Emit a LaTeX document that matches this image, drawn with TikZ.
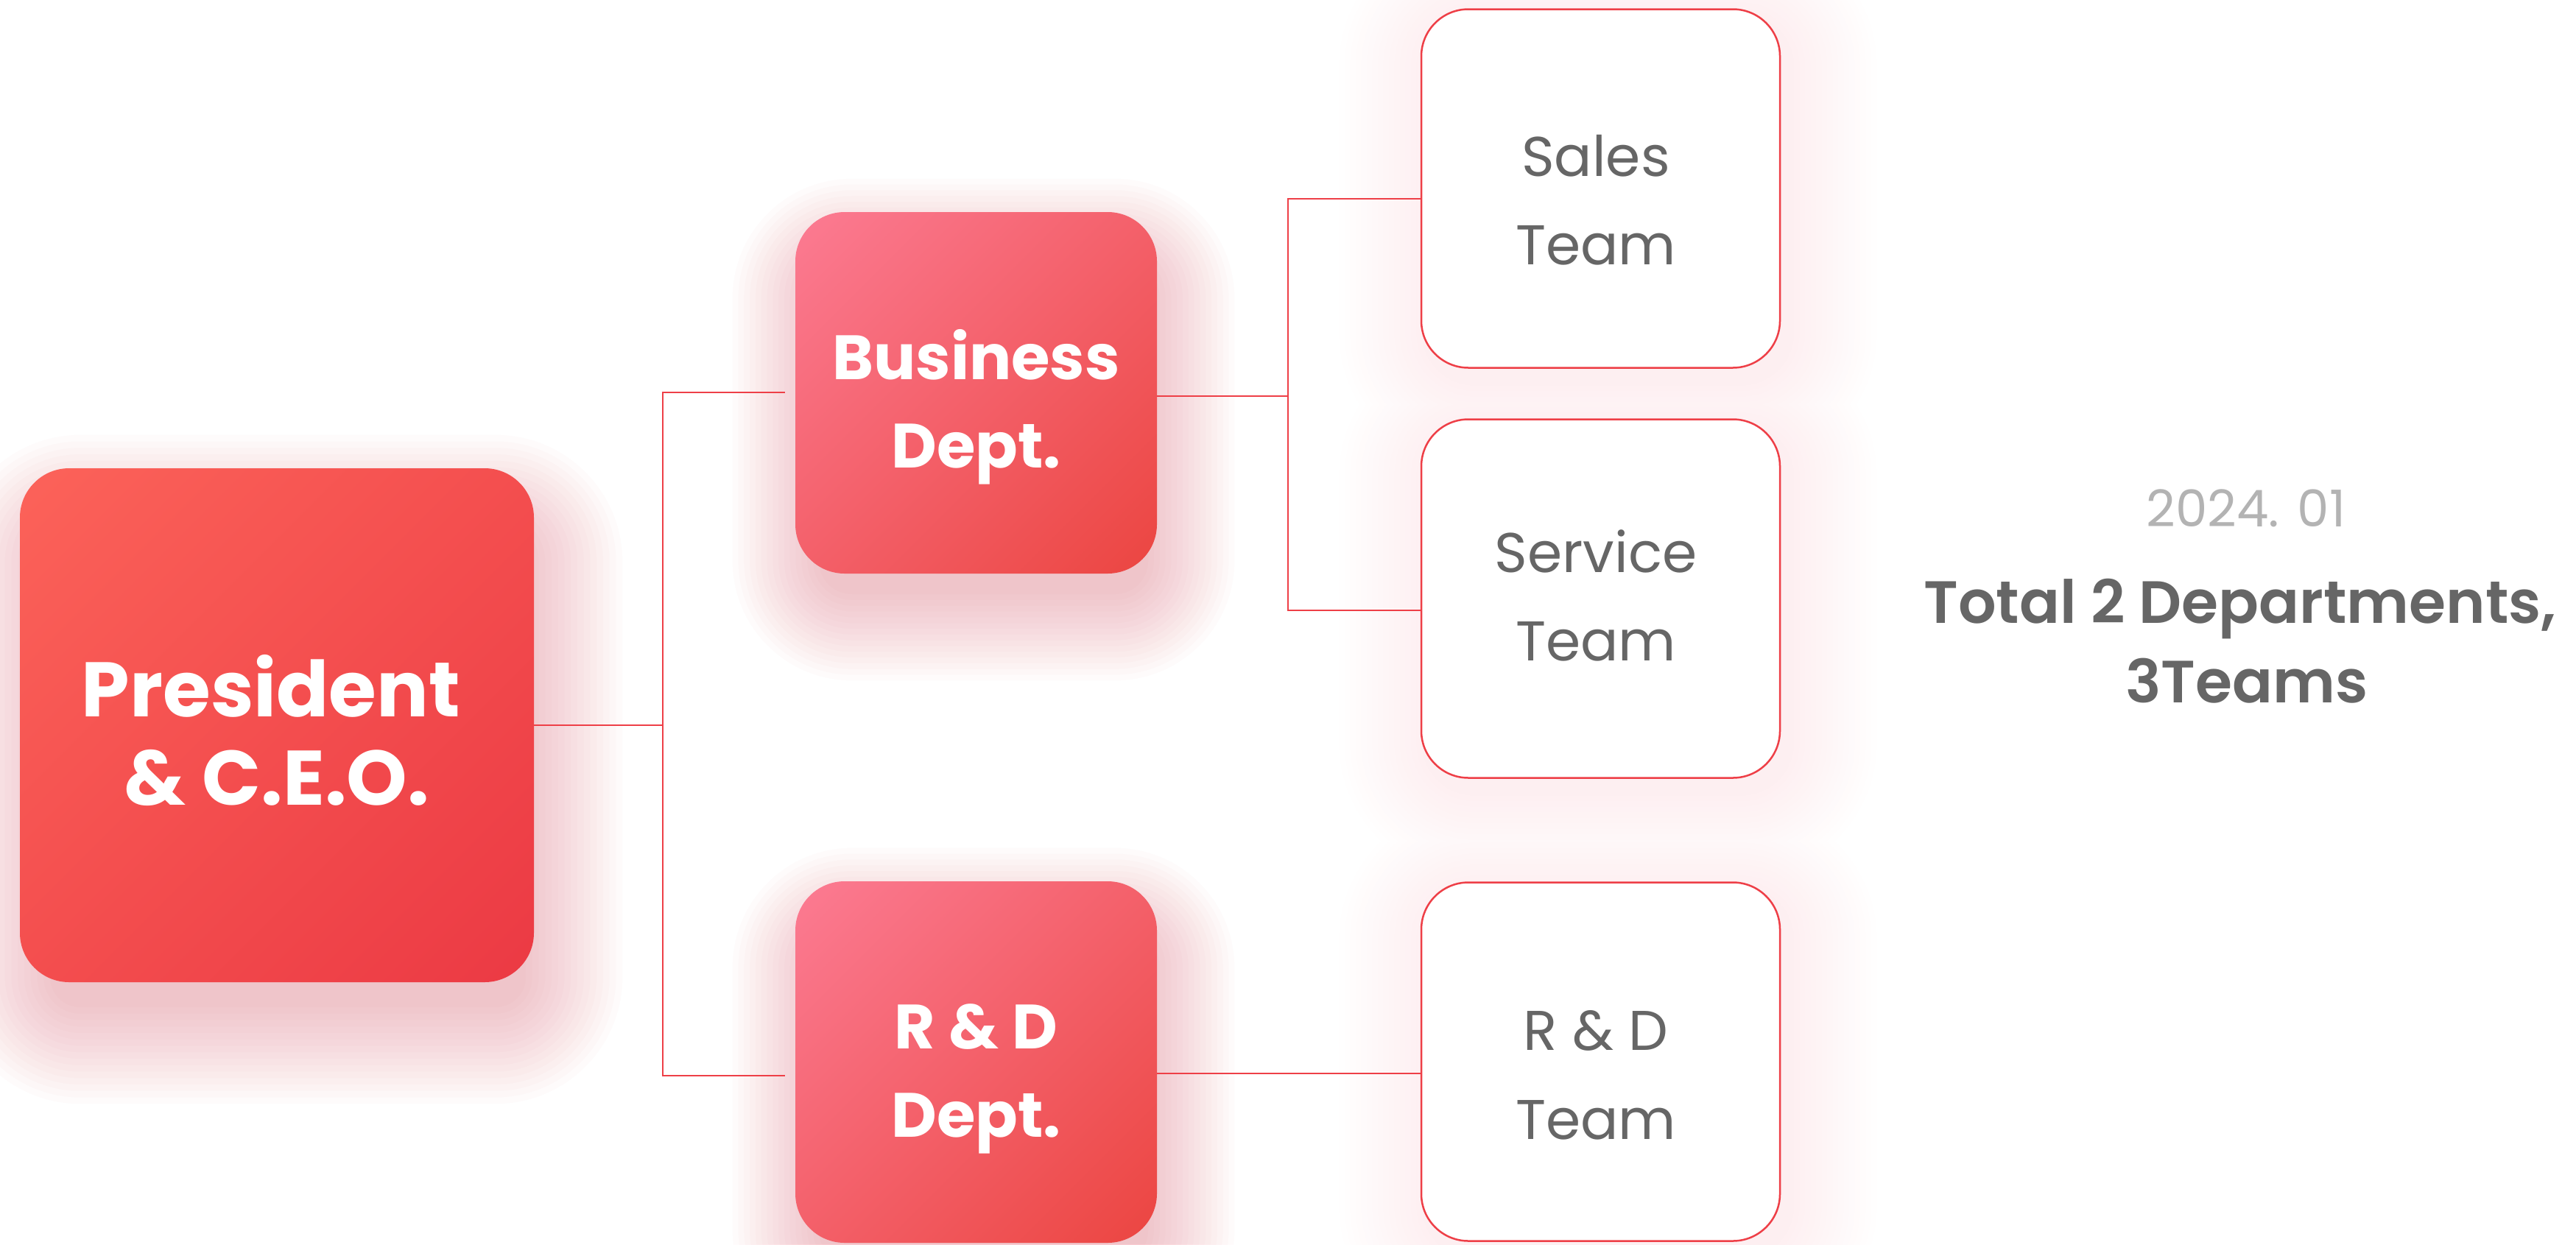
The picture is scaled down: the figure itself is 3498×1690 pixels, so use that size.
\documentclass[tikz,border=0pt]{standalone}
\usepackage{fontspec}
\setmainfont{Poppins}
\newfontfamily\popsemi{Poppins SemiBold}
\usetikzlibrary{calc,backgrounds}
\definecolor{presA}{HTML}{FF6B5E}
\definecolor{presB}{HTML}{E8313F}
\definecolor{deptA}{HTML}{FF86A3}
\definecolor{deptB}{HTML}{E83A30}
\definecolor{lineRed}{HTML}{EE3F47}
\definecolor{teamGray}{HTML}{666666}
\definecolor{dateGray}{HTML}{B3B3B3}
\definecolor{shadowPink}{HTML}{EE5A6C}
\definecolor{teamShadow}{HTML}{F2707E}
\pgfdeclareverticalshading{presshade}{100bp}{color(0bp)=(presB); color(100bp)=(presA)}
\pgfdeclareverticalshading{deptshade}{100bp}{color(0bp)=(deptB); color(100bp)=(deptA)}
% translucent layered glow: #1 node, #2 corner radius, #3 dx, #4 dy, #5 spread, #6 opacity per layer, #7 inset
\newcommand\softshadow[7]{%
  \foreach \i in {1,...,16}{%
    \pgfmathsetmacro\dd{#5*\i/16-#7}%
    \pgfmathsetmacro\rr{max(#2+\dd,4)}%
    \fill[shadowPink, opacity=#6, rounded corners=\rr pt]
      ($(#1.north west)+(#3-\dd,#4-\dd)$) rectangle ($(#1.south east)+(#3+\dd,#4+\dd)$);
  }}
% solid layered glow for a list of nodes, outer rings first:
% #1 node list, #2 corner radius, #3 dx, #4 dy, #5 spread, #6 max percent
\newcommand\solidshadows[6]{%
  \foreach \i in {16,...,1}{%
    \pgfmathsetmacro\dd{#5*\i/16}%
    \pgfmathsetmacro\rr{#2+\dd}%
    \pgfmathsetmacro\pp{#6*(17-\i)/16}%
    \foreach \n in {#1}{%
      \fill[teamShadow!\pp!white, rounded corners=\rr pt]
        ($(\n.north west)+(#3-\dd,#4-\dd)$) rectangle ($(\n.south east)+(#3+\dd,#4+\dd)$);
    }%
  }}
\tikzset{
  presbox/.style={shade, shading=presshade, shading angle=45, rounded corners=67pt,
    minimum width=698pt, minimum height=698pt, inner sep=0pt},
  deptbox/.style={shade, shading=deptshade, shading angle=45, rounded corners=67pt,
    minimum width=491pt, minimum height=491pt, inner sep=0pt},
  teambox/.style={fill=white, draw=lineRed, line width=2.5pt, rounded corners=64pt,
    minimum width=487pt, minimum height=487pt, inner sep=0pt},
  prestxt/.style={anchor=base, inner sep=0pt, text=white, font=\fontsize{105}{105}\selectfont\bfseries},
  depttxt/.style={anchor=base, inner sep=0pt, text=white, font=\fontsize{85}{85}\selectfont\bfseries},
  teamtxt/.style={anchor=base, inner sep=0pt, text=teamGray, font=\fontsize{76}{76}\selectfont},
  datetxt/.style={anchor=base, inner sep=0pt, text=dateGray, font=\fontsize{69}{69}\selectfont},
  sumtxt/.style={anchor=base, inner sep=0pt, text=teamGray, font=\fontsize{81}{81}\selectfont\popsemi},
  conn/.style={draw=lineRed, line width=2.2pt}
}
\begin{document}
\begin{tikzpicture}[x=1pt,y=-1pt]
\useasboundingbox (0,0) rectangle (3498,1690);
% boxes
\node[presbox] (pres) at (376,985) {};
\node[deptbox] (bus) at (1325.5,533.5) {};
\node[deptbox] (rnd) at (1325.5,1442.5) {};
\node[teambox] (sales) at (2173.5,256) {};
\node[teambox] (service) at (2173.5,813) {};
\node[teambox] (rndt) at (2173.5,1442) {};
% shadows
\begin{scope}[on background layer]
  \fill[white] (0,0) rectangle (3498,1690);
  \solidshadows{sales,service,rndt}{64}{10}{15}{120}{11}
  \softshadow{pres}{67}{15}{60}{140}{0.022}{35}
  \softshadow{bus}{67}{10}{50}{125}{0.022}{30}
  \softshadow{rnd}{67}{10}{50}{125}{0.022}{30}
\end{scope}
% texts
\node[prestxt] (presT1) at (368,973) {President};
\node[prestxt] (presT2) at (376,1093) {\& C.E.O.};
\node[depttxt] (busT1) at (1325.5,515) {Business};
\node[depttxt] (busT2) at (1325.5,635) {Dept.};
\node[depttxt] (rndT1) at (1325.5,1424) {R \& D};
\node[depttxt] (rndT2) at (1325.5,1544) {Dept.};
\node[teamtxt] (salesT1) at (2167,239) {Sales};
\node[teamtxt] (salesT2) at (2167,359) {Team};
\node[teamtxt] (serviceT1) at (2167,777.5) {Service};
\node[teamtxt] (serviceT2) at (2167,897) {Team};
\node[teamtxt] (rndtT1) at (2167,1426.5) {R \& D};
\node[teamtxt] (rndtT2) at (2167,1547) {Team};
\node[datetxt] (date) at (3050,715) {2024. 01};
\node[sumtxt] (sum1) at (3042,846) {Total 2 Departments,};
\node[sumtxt] (sum2) at (3051,954) {3Teams};
% connectors
\coordinate (jt) at (900,533);
\coordinate (jb) at (900,1461);
\coordinate (kt) at (1749,270);
\coordinate (km) at (1749,538);
\coordinate (kb) at (1749,829);
\coordinate (rr) at (1749,1458);
\draw[conn] (pres.east) -- (pres.east -| jt);
\draw[conn, shorten <=14pt, shorten >=14pt] (bus.west |- jt) -- (jt) -- (jb) -- (rnd.west |- jb);
\draw[conn] (bus.east |- km) -- (km);
\draw[conn] (sales.west |- kt) -- (kt) -- (kb) -- (service.west |- kb);
\draw[conn] (rnd.east |- rr) -- (rndt.west |- rr);
\end{tikzpicture}
\end{document}
